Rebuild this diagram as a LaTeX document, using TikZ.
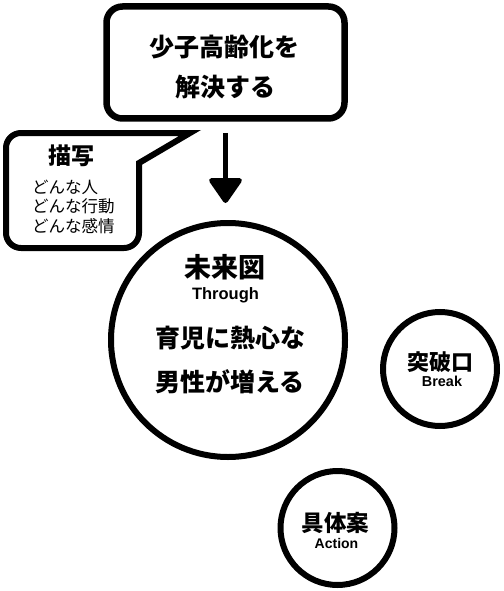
\documentclass[tikz,border=0pt]{standalone}
\usepackage{fontspec}
\newfontfamily\jpfont{Noto Sans CJK JP}
\newfontfamily\enfont{Liberation Sans}
\usetikzlibrary{arrows.meta}
\tikzset{
  frame/.style={draw=black, line width=6.5pt, fill=white},
  ring/.style={circle, draw=black, line width=6pt, fill=white, inner sep=0pt},
  jpb/.style={font=\jpfont\bfseries\fontsize{#1}{#1}\selectfont, inner sep=0pt},
  jpr/.style={font=\jpfont\fontsize{#1}{#1}\selectfont, inner sep=0pt},
  enb/.style={font=\enfont\bfseries\fontsize{#1}{#1}\selectfont, inner sep=0pt},
  bigarrow/.style={line width=5pt, -{Triangle[length=27pt,width=36pt,round]}}
}
\begin{document}
\begin{tikzpicture}[x=1pt,y=-1pt]
\useasboundingbox[fill=white] (0,0) rectangle (503,591);
% top box
\node[frame, rounded corners=16pt, minimum width=238pt, minimum height=112pt, inner sep=0pt] (goal) at (225.5,62.5) {};
\node[jpb=25] (g1) at (224,47) {少子高齢化を};
\node[jpb=25] (g2) at (225,87) {解決する};
% speech bubble
\draw[line width=6pt, fill=white] (139,163) -- (139,233) arc[start angle=0, end angle=90, radius=15]
  -- (21,248) arc[start angle=90, end angle=180, radius=15]
  -- (6,148) arc[start angle=180, end angle=270, radius=15]
  -- (190,133) -- cycle;
\node[jpb=23] (desc) at (71,156) {描写};
\node[jpr=16.5, anchor=west] (d1) at (32,187) {どんな人};
\node[jpr=16.5, anchor=west] (d2) at (32,206) {どんな行動};
\node[jpr=16.5, anchor=west] (d3) at (32,226) {どんな感情};
% circles
\node[ring, minimum size=234pt] (future) at (228,340) {};
\node[ring, minimum size=114pt] (brk) at (440,369) {};
\node[ring, minimum size=114pt] (act) at (337.5,528) {};
% arrow
\draw[bigarrow] ([yshift=-11pt]goal.south) -- ([yshift=17pt]goal.south |- future.north);
% texts
\node[jpb=27] (f1) at (225,267) {未来図};
\node[enb=16.5] (f2) at (225.5,295) {Through};
\node[jpb=25] (f3) at (230,338) {育児に熱心な};
\node[jpb=25] (f4) at (230,382) {男性が増える};
\node[jpb=22] (b1) at (440.5,362) {突破口};
\node[enb=14.4] (b2) at (442,381) {Break};
\node[jpb=22.5] (a1) at (335.5,523) {具体案};
\node[enb=14] (a2) at (336.5,543) {Action};
\end{tikzpicture}
\end{document}
